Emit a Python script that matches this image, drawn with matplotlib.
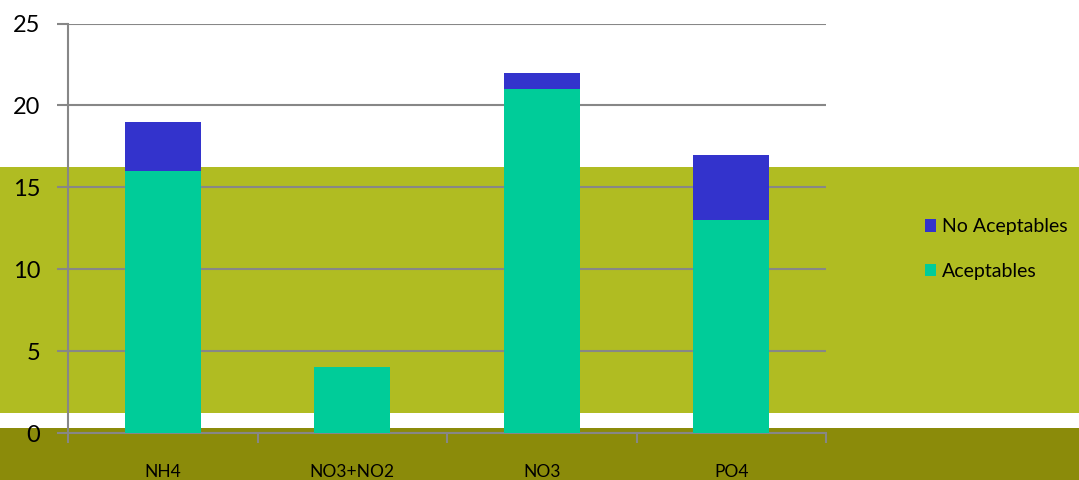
import matplotlib.pyplot as plt
from matplotlib.patches import Rectangle
import numpy as np

categories = ["NH4", "NO3+NO2", "NO3", "PO4"]
aceptables = [16, 4, 21, 13]
no_aceptables = [3, 0, 1, 4]

plt.rcParams['font.family'] = ['Lato', 'DejaVu Sans']

fig = plt.figure(figsize=(10.79, 4.8), dpi=100)
fig.patch.set_facecolor('white')

# background bands, in their own axes behind the chart
bg = fig.add_axes([0, 0, 1, 1], zorder=0)
bg.set_xlim(0, 1079)
bg.set_ylim(480, 0)
bg.axis('off')
bg.add_patch(Rectangle((0, 167), 1079, 246, facecolor='#B0BC22', edgecolor='none'))
bg.add_patch(Rectangle((0, 428), 1079, 52, facecolor='#8B8B0A', edgecolor='none'))

ax = fig.add_axes([68 / 1079, 47 / 480, 758 / 1079, 409.5 / 480], zorder=1)
ax.set_facecolor('none')

x = np.arange(len(categories))
ax.bar(x, aceptables, width=0.4, color='#00CC99', edgecolor='none',
       label='Aceptables', zorder=3)
ax.bar(x, no_aceptables, width=0.4, bottom=aceptables, color='#3333CC', edgecolor='none',
       label='No Aceptables', zorder=3)

ax.set_xlim(-0.5, len(categories) - 0.5)
ax.set_ylim(0, 25)
ax.set_yticks([0, 5, 10, 15, 20, 25])
ax.yaxis.grid(True, color='#878787', linewidth=1.5, zorder=1)
ax.set_axisbelow(True)

ax.set_xticks(x)
ax.set_xticklabels(categories, fontsize=12.5)
ax.set_xticks(np.arange(len(categories) + 1) - 0.5, minor=True)
ax.tick_params(axis='x', which='major', length=0, pad=22)
ax.tick_params(axis='x', which='minor', length=7, width=1.5, color='#878787', direction='out')
ax.tick_params(axis='y', length=8, width=1.5, color='#878787', labelsize=17, pad=12)

for s in ['top', 'right']:
    ax.spines[s].set_visible(False)
for s in ['left', 'bottom']:
    ax.spines[s].set_color('#878787')
    ax.spines[s].set_linewidth(1.5)

handles, labels = ax.get_legend_handles_labels()
fig.legend(handles[::-1], labels[::-1], loc='center left', bbox_to_anchor=(907 / 1079, 1 - 249 / 480),
           frameon=False, fontsize=14, handlelength=0.6, handleheight=0.6,
           handletextpad=0.3, labelspacing=1.4)

fig.savefig('out.png', dpi=100)
